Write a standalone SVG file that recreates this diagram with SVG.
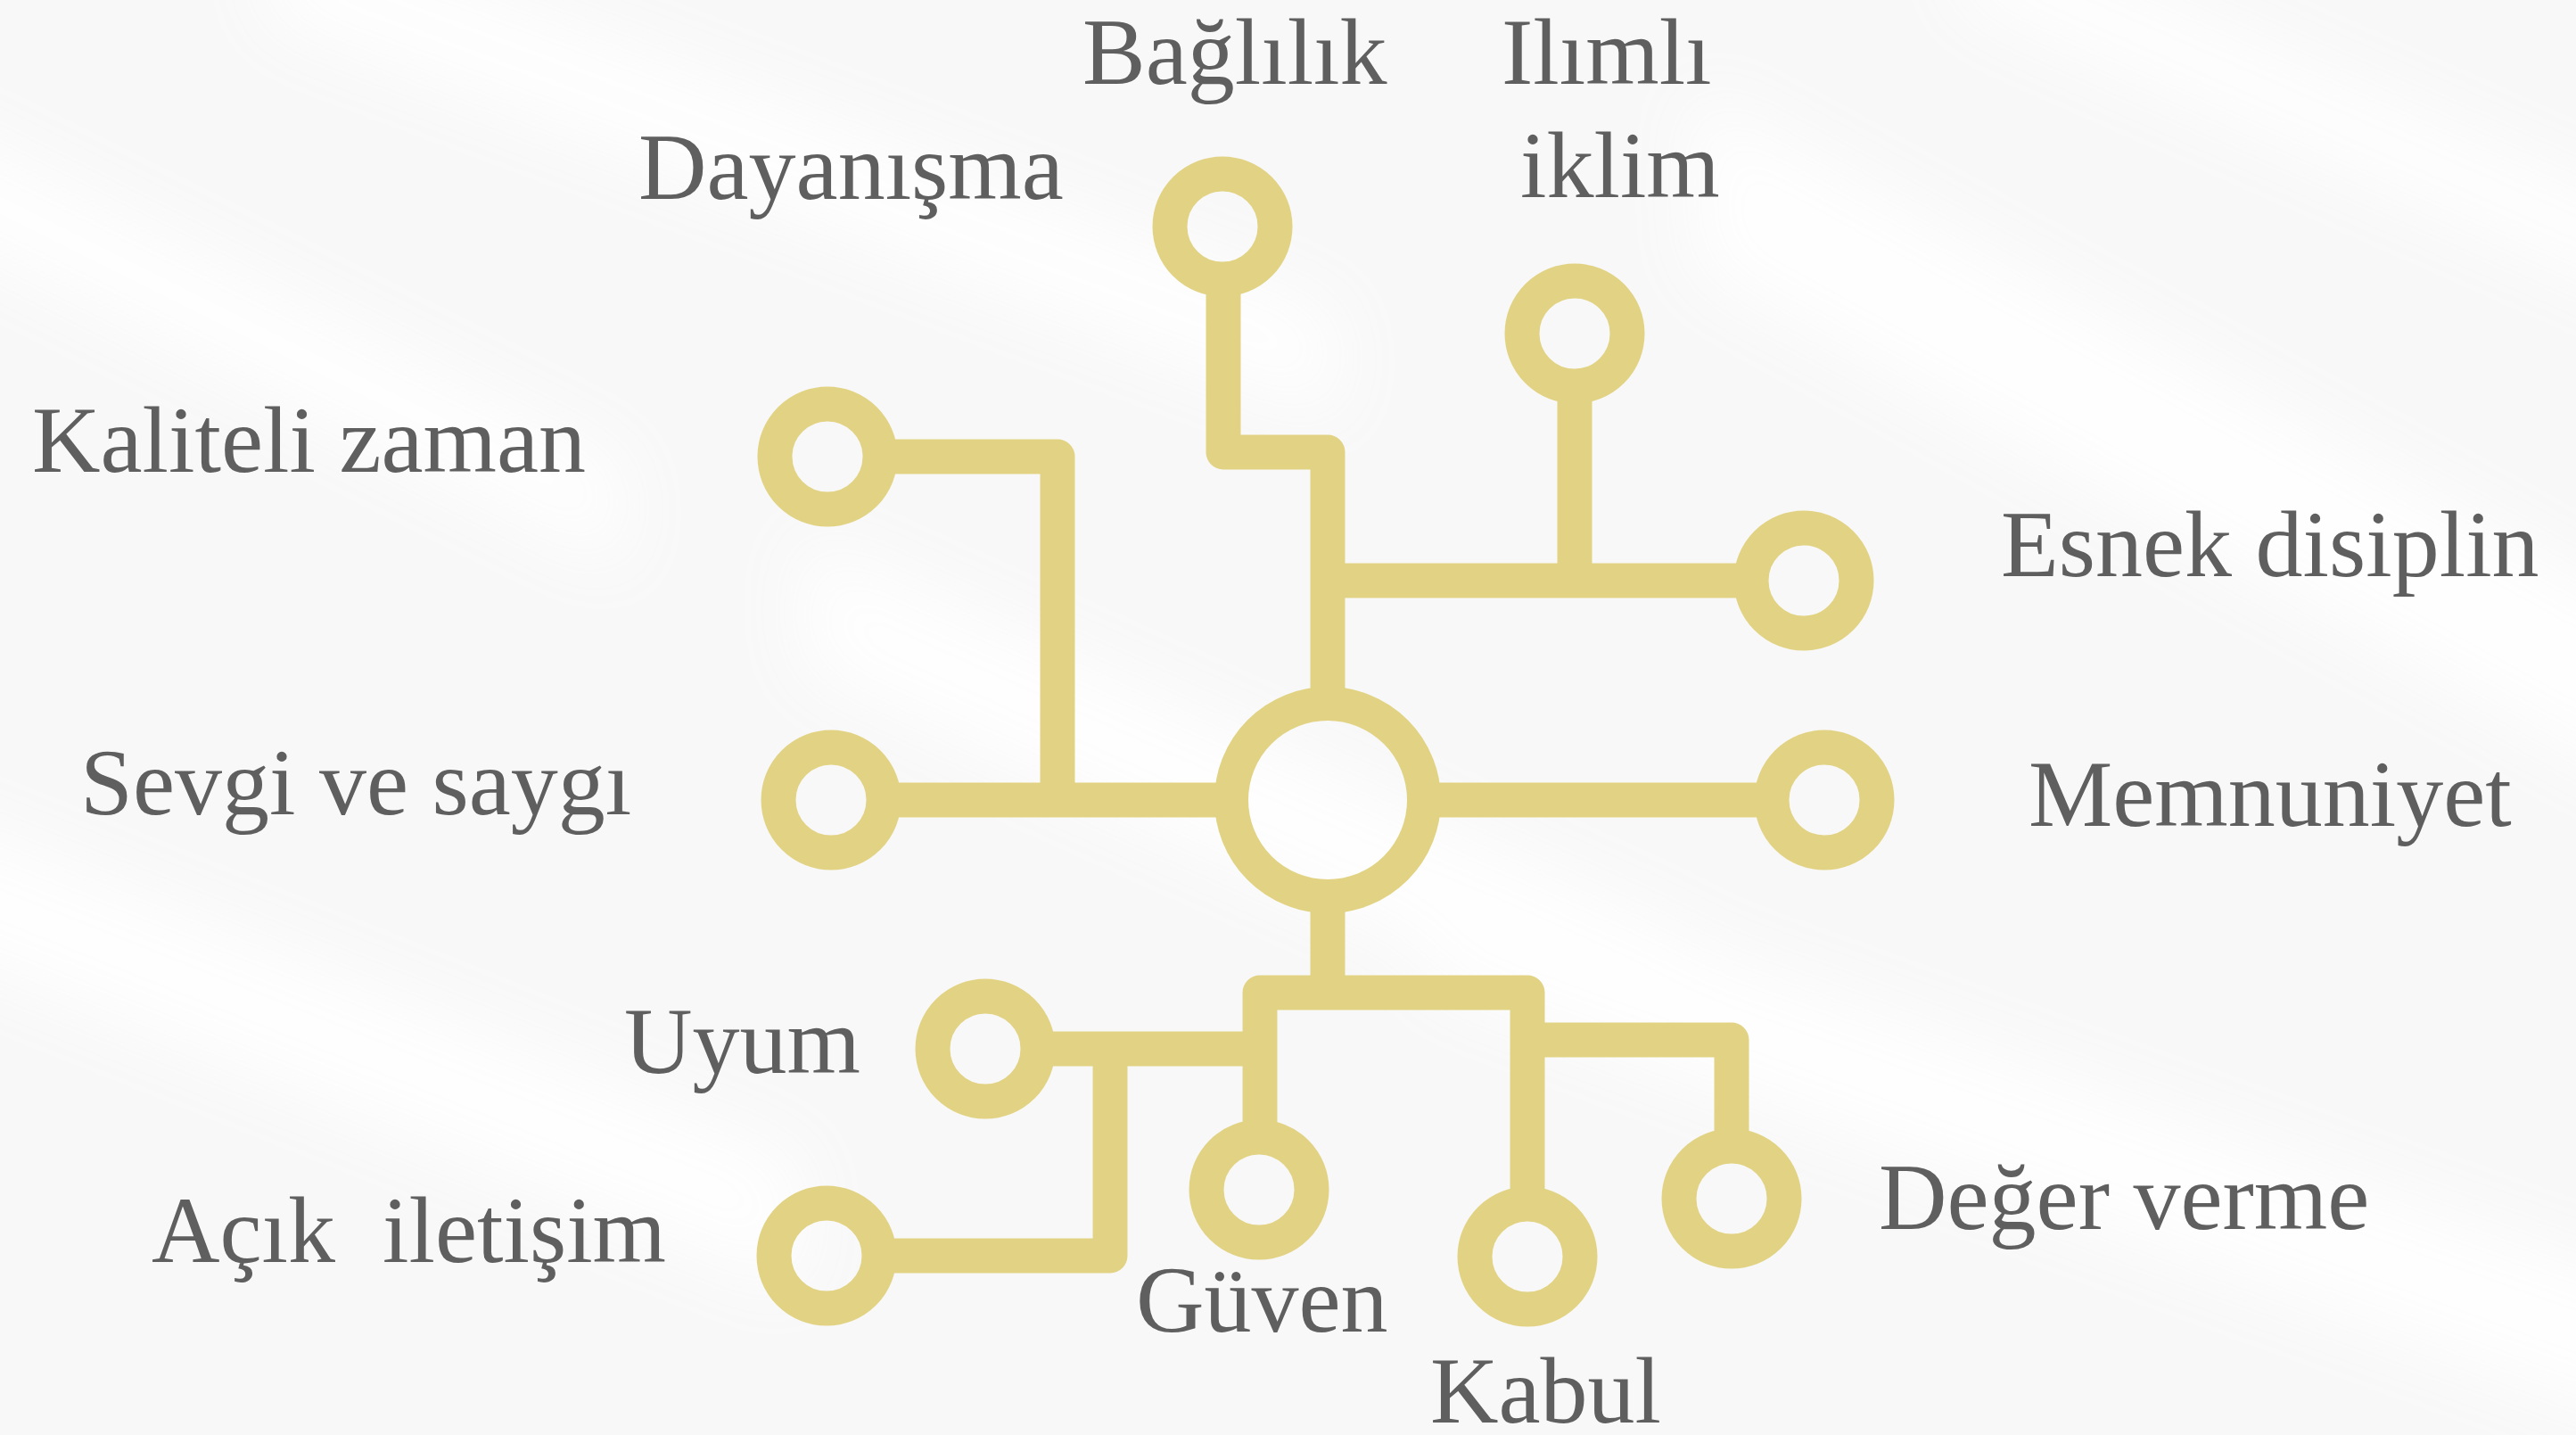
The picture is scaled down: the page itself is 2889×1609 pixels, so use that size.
<svg xmlns="http://www.w3.org/2000/svg" width="2889" height="1609" viewBox="0 0 2889 1609">
<defs>
<filter id="blur" x="-20%" y="-20%" width="140%" height="140%"><feGaussianBlur stdDeviation="40"/></filter>
<style>
.lbl{font-family:"Liberation Serif","Times New Roman",serif;font-size:106px;fill:#5f5f5f;white-space:pre}
.ring{fill:none;stroke:#E2D384;stroke-width:39}
.hub{fill:none;stroke:#E2D384;stroke-width:38}
.wire{fill:none;stroke:#E2D384;stroke-width:39;stroke-linejoin:round;stroke-linecap:butt}
</style>
</defs>
<rect x="0" y="0" width="2889" height="1609" fill="#f8f8f8"/>
<g filter="url(#blur)" opacity="0.9">
<polygon points="-100,120 700,520 700,640 -100,240" fill="#ffffff"/>
<polygon points="300,-100 1500,350 1500,470 300,20" fill="#ffffff"/>
<polygon points="1900,100 2989,700 2989,900 1900,300" fill="#ffffff"/>
<polygon points="-100,900 900,1300 900,1450 -100,1050" fill="#ffffff"/>
<polygon points="1600,950 2989,1450 2989,1609 1600,1100" fill="#ffffff"/>
<polygon points="900,600 1900,1050 1900,1200 900,750" fill="#ffffff"/>
<polygon points="2200,-100 2989,250 2989,350 2200,0" fill="#ffffff"/>
</g>
<g id="connectors">
<path class="wire" d="M1372 313 V507 H1489 V789"/>
<path class="wire" d="M1766 433 V651"/>
<path class="wire" d="M1489 651 H1964"/>
<path class="wire" d="M987 512 H1186 V897"/>
<path class="wire" d="M991 897 H1381"/>
<path class="wire" d="M1597 897 H1987"/>
<path class="wire" d="M1489 1005 V1113"/>
<path class="wire" d="M1413 1275 V1113 H1713 V1350"/>
<path class="wire" d="M1713 1166 H1942 V1285"/>
<path class="wire" d="M1164 1176 H1413"/>
<path class="wire" d="M986 1408 H1245 V1176"/>
</g>
<g id="center"><circle class="hub" cx="1489" cy="897" r="108"/></g>
<g id="baglilik"><circle class="ring" cx="1371" cy="254" r="59"/><text class="lbl" x="1214" y="94">Bağlılık</text></g>
<g id="ilimli-iklim"><circle class="ring" cx="1766" cy="374" r="59"/><text class="lbl" x="1684" y="94">Ilımlı</text><text class="lbl" x="1705" y="221">iklim</text></g>
<g id="dayanisma"><text class="lbl" x="716" y="223">Dayanışma</text></g>
<g id="kaliteli-zaman"><circle class="ring" cx="928" cy="512" r="59"/><text class="lbl" x="36" y="529">Kaliteli zaman</text></g>
<g id="esnek-disiplin"><circle class="ring" cx="2023" cy="651" r="59"/><text class="lbl" x="2244" y="646">Esnek disiplin</text></g>
<g id="sevgi-ve-saygi"><circle class="ring" cx="932" cy="897" r="59"/><text class="lbl" x="90" y="913">Sevgi ve saygı</text></g>
<g id="memnuniyet"><circle class="ring" cx="2046" cy="897" r="59"/><text class="lbl" x="2275" y="926">Memnuniyet</text></g>
<g id="uyum"><circle class="ring" cx="1105" cy="1176" r="59"/><text class="lbl" x="700" y="1203">Uyum</text></g>
<g id="acik-iletisim"><circle class="ring" cx="927" cy="1408" r="59"/><text class="lbl" x="170" y="1415" xml:space="preserve">Açık  iletişim</text></g>
<g id="guven"><circle class="ring" cx="1412" cy="1334" r="59"/><text class="lbl" x="1274" y="1493">Güven</text></g>
<g id="kabul"><circle class="ring" cx="1713" cy="1409" r="59"/><text class="lbl" x="1604" y="1595">Kabul</text></g>
<g id="deger-verme"><circle class="ring" cx="1942" cy="1344" r="59"/><text class="lbl" x="2107" y="1378">Değer verme</text></g>
</svg>
